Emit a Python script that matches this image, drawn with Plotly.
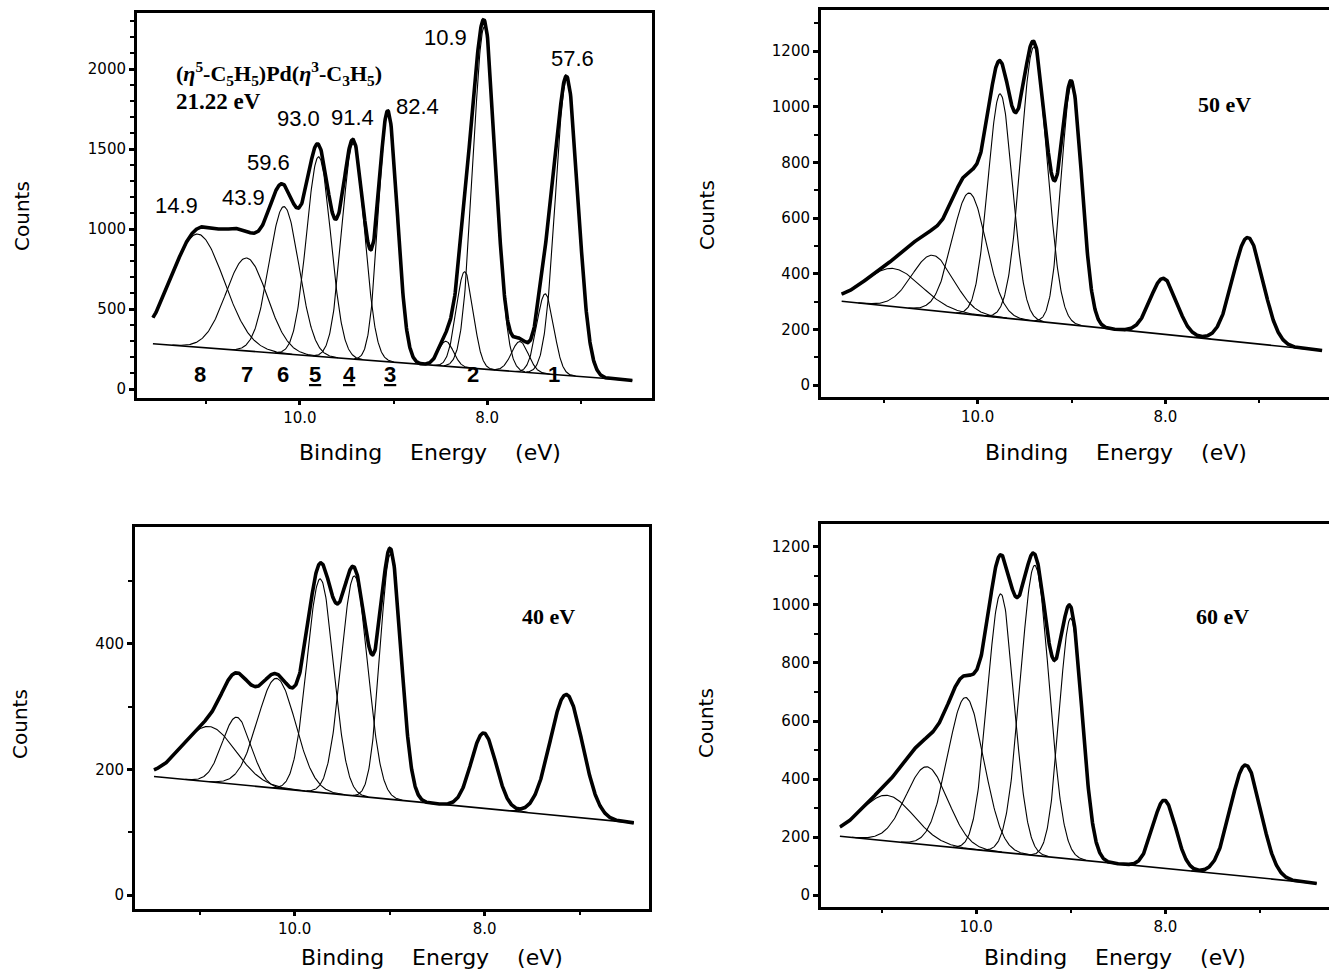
import numpy as np
import plotly.graph_objects as go

# ---------------- data ----------------
# Panel A: He I 21.22 eV
a_centers = [11.09, 10.57, 10.17, 9.80, 9.43, 9.06, 8.44, 8.24, 8.03, 7.65, 7.38, 7.15]
a_heights = [707, 581, 920, 1248, 1348, 1556, 156, 600, 2140, 190, 500, 1850]
a_sigmas = [0.28, 0.22, 0.16, 0.13, 0.12, 0.10, 0.08, 0.09, 0.12, 0.09, 0.09, 0.12]
a_base_x = [11.57, 6.45]
a_base_y = [283, 53]

# Panel B: 50 eV
b_centers = [10.90, 10.48, 10.09, 9.76, 9.40, 9.00, 8.02, 7.12]
b_heights = [137, 199, 436, 804, 985, 860, 201, 379]
b_sigmas = [0.30, 0.22, 0.18, 0.13, 0.14, 0.11, 0.14, 0.16]
b_base_x = [11.45, 6.33]
b_base_y = [301, 124]

# Panel C: 40 eV
c_centers = [10.90, 10.61, 10.19, 9.73, 9.37, 8.99, 8.01, 7.14]
c_heights = [88, 107, 175, 340, 350, 390, 120, 194]
c_sigmas = [0.28, 0.15, 0.20, 0.14, 0.14, 0.11, 0.13, 0.17]
c_base_x = [11.48, 6.43]
c_base_y = [189, 115]

# Panel D: 60 eV
d_centers = [10.94, 10.52, 10.11, 9.74, 9.38, 9.00, 8.01, 7.15]
d_heights = [157, 269, 521, 890, 1000, 830, 235, 384]
d_sigmas = [0.28, 0.22, 0.19, 0.14, 0.15, 0.12, 0.12, 0.16]
d_base_x = [11.44, 6.40]
d_base_y = [203, 40]

# peak annotations (panel A)
a_pct_labels = ["14.9", "43.9", "59.6", "93.0", "91.4", "82.4", "10.9", "57.6"]
a_pct_x = [11.32, 10.60, 10.34, 10.01, 9.44, 8.74, 8.45, 7.09]
a_pct_y = [1150, 1200, 1413, 1688, 1694, 1763, 2194, 2063]
a_band_labels = ["8", "7", "6", "5", "4", "3", "2", "1"]
a_band_x = [11.07, 10.57, 10.18, 9.84, 9.47, 9.04, 8.15, 7.29]
a_band_y = 92
a_underlined = ["5", "4", "3"]

x_tickvals = [10.0, 8.0]
x_ticktext = ["10.0", "8.0"]
x_minor = [11.0, 9.0, 7.0]

# ---------------- figure ----------------
fig = go.Figure()


def baseline(x, bx, by):
    return np.interp(x, bx[::-1], by[::-1])


def add_panel(k, centers, heights, sigmas, bx, by):
    xa = "x" if k == 1 else f"x{k}"
    ya = "y" if k == 1 else f"y{k}"
    xlo, xhi = min(bx), max(bx)
    xs = np.linspace(xlo, xhi, 1200)
    base = baseline(xs, bx, by)
    total = base.copy()
    for c, h, s in zip(centers, heights, sigmas):
        lo = max(xlo, c - 3.6 * s)
        hi = min(xhi, c + 3.6 * s)
        xc = np.linspace(lo, hi, 200)
        yc = baseline(xc, bx, by) + h * np.exp(-(xc - c) ** 2 / (2 * s * s))
        fig.add_trace(go.Scatter(x=xc, y=yc, mode="lines", xaxis=xa, yaxis=ya,
                                 line=dict(color="black", width=1.1),
                                 showlegend=False, hoverinfo="skip"))
        total = total + h * np.exp(-(xs - c) ** 2 / (2 * s * s))
    fig.add_trace(go.Scatter(x=[bx[0], bx[1]], y=[by[0], by[1]], mode="lines",
                             xaxis=xa, yaxis=ya, line=dict(color="black", width=1.6),
                             showlegend=False, hoverinfo="skip"))
    fig.add_trace(go.Scatter(x=xs, y=total, mode="lines", xaxis=xa, yaxis=ya,
                             line=dict(color="black", width=3.6),
                             showlegend=False, hoverinfo="skip"))


add_panel(1, a_centers, a_heights, a_sigmas, a_base_x, a_base_y)
add_panel(2, b_centers, b_heights, b_sigmas, b_base_x, b_base_y)
add_panel(3, c_centers, c_heights, c_sigmas, c_base_x, c_base_y)
add_panel(4, d_centers, d_heights, d_sigmas, d_base_x, d_base_y)

W, H = 1329, 975
tickfont = dict(family="DejaVu Sans", size=15, color="black")


def xaxis(domain, rng, anchor):
    return dict(domain=domain, range=rng, anchor=anchor, tickvals=x_tickvals,
                ticktext=x_ticktext, ticks="outside", ticklen=4, tickwidth=2.5,
                tickcolor="black", showline=True, linecolor="black", linewidth=3,
                mirror=True, showgrid=False, zeroline=False, tickfont=tickfont,
                minor=dict(tickvals=x_minor, ticks="outside", ticklen=3,
                           tickwidth=1.5, tickcolor="black"))


def yaxis(domain, rng, anchor, tvals, minor_vals, mirror=True):
    return dict(domain=domain, range=rng, anchor=anchor, tickvals=tvals,
                ticks="outside", ticklen=5, tickwidth=2.5, tickcolor="black",
                showline=True, linecolor="black", linewidth=3, mirror=mirror,
                showgrid=False, zeroline=False, tickfont=tickfont,
                minor=dict(tickvals=minor_vals, ticks="outside", ticklen=4,
                           tickwidth=1.5, tickcolor="black"))


def dx(a, b):
    return [a / W, b / W]


def dy(top, bottom):
    return [(H - bottom) / H, (H - top) / H]


fig.update_layout(
    width=W, height=H, margin=dict(l=0, r=0, t=0, b=0),
    paper_bgcolor="white", plot_bgcolor="white", showlegend=False,
    xaxis=xaxis(dx(137, 652), [11.74, 6.24], "y"),
    yaxis=yaxis(dy(13, 398), [-56, 2350], "x", [0, 500, 1000, 1500, 2000],
                [v for v in range(100, 2301, 100) if v % 500]),
    xaxis2=xaxis(dx(821, 1329), [11.67, 6.256], "y2"),
    yaxis2=yaxis(dy(10, 397), [-43, 1348], "x2", [0, 200, 400, 600, 800, 1000, 1200],
                 [v for v in range(100, 1301, 100) if v % 200], mirror=False),
    xaxis3=xaxis(dx(135, 649), [11.68, 6.27], "y3"),
    yaxis3=yaxis(dy(527, 909), [-22, 586], "x3", [0, 200, 400], [100, 300, 500]),
    xaxis4=xaxis(dx(821, 1329), [11.64, 6.27], "y4"),
    yaxis4=yaxis(dy(524, 907), [-41, 1279], "x4", [0, 200, 400, 600, 800, 1000, 1200],
                 [v for v in range(100, 1201, 100) if v % 200], mirror=False),
)

ann = []
numfont = dict(family="Liberation Sans", size=22, color="black")
for t, x, y in zip(a_pct_labels, a_pct_x, a_pct_y):
    ann.append(dict(x=x, y=y, xref="x", yref="y", text=t, showarrow=False,
                    xanchor="center", yanchor="middle", font=numfont))
for t, x in zip(a_band_labels, a_band_x):
    txt = f"<b><u>{t}</u></b>" if t in a_underlined else f"<b>{t}</b>"
    ann.append(dict(x=x, y=a_band_y, xref="x", yref="y", text=txt,
                    xanchor="center", yanchor="middle", showarrow=False,
                    font=dict(family="Liberation Sans", size=22, color="black")))

serif = dict(family="Liberation Serif", size=22, color="black")
ann.append(dict(x=11.34, y=1975, xref="x", yref="y", xanchor="left", yanchor="middle",
                text="<b>(<i>\u03b7</i><sup>5</sup>-C<sub>5</sub>H<sub>5</sub>)Pd(<i>\u03b7</i><sup>3</sup>-C<sub>3</sub>H<sub>5</sub>)</b>",
                showarrow=False, font=serif))
ann.append(dict(x=11.34, y=1800, xref="x", yref="y", xanchor="left", yanchor="middle",
                text="<b>21.22 eV</b>", showarrow=False,
                font=dict(family="Liberation Serif", size=23, color="black")))
ann.append(dict(x=7.37, y=1010, xref="x2", yref="y2", text="<b>50 eV</b>",
                xanchor="center", yanchor="middle", showarrow=False,
                font=dict(family="Liberation Serif", size=22, color="black")))
ann.append(dict(x=7.33, y=443, xref="x3", yref="y3", text="<b>40 eV</b>",
                xanchor="center", yanchor="middle", showarrow=False,
                font=dict(family="Liberation Serif", size=22, color="black")))
ann.append(dict(x=7.40, y=959, xref="x4", yref="y4", text="<b>60 eV</b>",
                xanchor="center", yanchor="middle", showarrow=False,
                font=dict(family="Liberation Serif", size=22, color="black")))

titlefont = dict(family="DejaVu Sans", size=22, color="black")
sp = "\u00a0" * 4
xtitle = f"Binding{sp}Energy{sp}(eV)"
for (px, py) in [(430, 452), (1116, 452), (432, 957), (1115, 957)]:
    ann.append(dict(x=px / W, y=(H - py) / H, xref="paper", yref="paper",
                    xanchor="center", yanchor="middle",
                    text=xtitle, showarrow=False, font=titlefont))
for (px, py) in [(22, 216), (707, 215), (20, 724), (706, 723)]:
    ann.append(dict(x=px / W, y=(H - py) / H, xref="paper", yref="paper",
                    xanchor="center", yanchor="middle",
                    text="Counts", textangle=-90, showarrow=False,
                    font=dict(family="DejaVu Sans", size=20, color="black")))

fig.update_layout(annotations=ann)
fig.write_html("out.html", config={"displayModeBar": False},
               post_script="document.body.style.margin='0';document.body.style.overflow='hidden';")
